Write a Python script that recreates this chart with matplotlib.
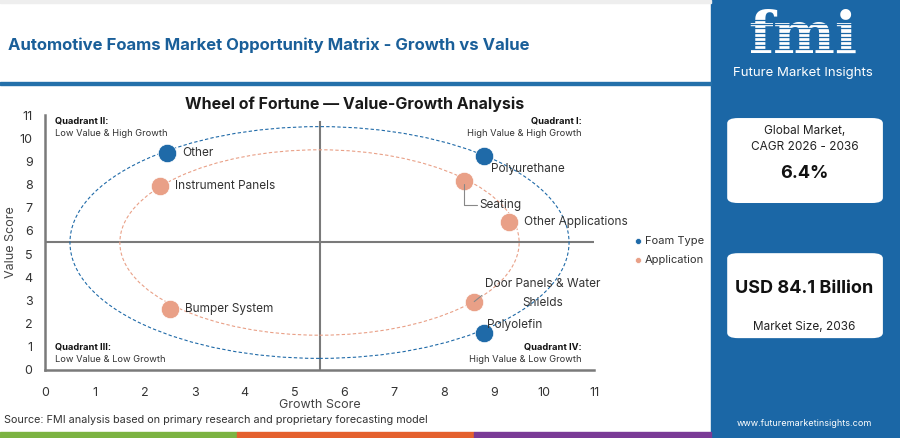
import matplotlib
matplotlib.use("Agg")
from matplotlib import pyplot as plt
from matplotlib.patches import Ellipse, Rectangle, FancyBboxPatch
from matplotlib.lines import Line2D

plt.rcParams['font.family'] = ['Inter', 'DejaVu Sans']

# data
foam_names = ["Polyurethane", "Polyolefin", "Other"]
foam_growth = [8.8, 8.8, 2.45]
foam_value = [9.25, 1.6, 9.35]

app_names = ["Seating", "Door Panels & Water\nShields", "Instrument Panels", "Bumper System", "Other Applications"]
app_growth = [8.4, 8.6, 2.3, 2.5, 9.3]
app_value = [8.15, 2.95, 7.95, 2.65, 6.4]

ticks = list(range(0, 12))

BLUE = "#1f6aa8"
SALMON = "#e9a087"
GRID = "#7a7a7a"
TXT = "#333333"
PANEL = "#1b67a6"

fig = plt.figure(figsize=(9, 4.38), dpi=100)

# right side panel
fig.patches.append(Rectangle((0.79, 0), 0.21, 1, transform=fig.transFigure, color=PANEL, zorder=0))
# thin top border + header line
fig.patches.append(Rectangle((0, 0.993), 0.79, 0.007, transform=fig.transFigure, color="#eeeeee", zorder=0))
fig.patches.append(Rectangle((0, 0.805), 0.79, 0.008, transform=fig.transFigure, color="#2470aa", zorder=0))
# bottom colour bar
for i, c in enumerate(["#7cb342", "#e4602e", "#7a3b96"]):
    fig.patches.append(Rectangle((i * 0.79 / 3, 0), 0.79 / 3, 0.013, transform=fig.transFigure, color=c, zorder=0))

fig.text(0.009, 0.897, "Automotive Foams Market Opportunity Matrix - Growth vs Value",
         fontsize=12, fontweight="bold", color="#1a5f99", va="center")
fig.text(0.394, 0.762, "Wheel of Fortune \u2014 Value-Growth Analysis",
         fontsize=11.5, fontweight="bold", color="#1a1a1a", ha="center", va="center")
fig.text(0.004, 0.041, "Source: FMI analysis based on primary research and proprietary forecasting model",
         fontsize=7.8, color=TXT, va="center")

ax = fig.add_axes([0.05, 0.1553, 0.61, 0.5821])
ax.set_xlim(0, 11)
ax.set_ylim(0, 11)
for s in ["top", "right"]:
    ax.spines[s].set_visible(False)
for s in ["left", "bottom"]:
    ax.spines[s].set_color(GRID)
    ax.spines[s].set_linewidth(1.8)
ax.set_xticks(ticks)
ax.set_yticks(ticks)
ax.tick_params(length=0, labelsize=9, colors=TXT)
ax.tick_params(axis="x", pad=12)
ax.tick_params(axis="y", pad=9)
ax.set_xlabel("Growth Score", fontsize=9, color="#444444", labelpad=0)
ax.set_ylabel("Value Score", fontsize=9, color="#444444", labelpad=2)

# quadrant dividers
ax.plot([5.5, 5.5], [0, 10.7], color=GRID, lw=1.5, zorder=1)
ax.plot([0, 11], [5.5, 5.5], color=GRID, lw=1.5, zorder=1)

# guide ellipses
ax.add_patch(Ellipse((5.5, 5.5), 10, 10, fill=False, ls=(0, (3, 2)), lw=0.8, ec=BLUE, zorder=2))
ax.add_patch(Ellipse((5.5, 5.5), 8, 8, fill=False, ls=(0, (3, 2)), lw=0.8, ec=SALMON, zorder=2))

ax.scatter(foam_growth, foam_value, s=175, color=BLUE, zorder=4, label="Foam Type", edgecolors="white", linewidths=0.5)
ax.scatter(app_growth, app_value, s=175, color=SALMON, zorder=4, label="Application", edgecolors="white", linewidths=0.5)

# label placement (offsets in points)
label_style = {
    "Polyurethane": dict(xytext=(5, -10), ha="left", va="center"),
    "Polyolefin": dict(xytext=(2, 6), ha="left", va="center"),
    "Other": dict(xytext=(11, 0), ha="left", va="center"),
    "Seating": dict(xytext=(11, -17), ha="left", va="center"),
    "Door Panels & Water\nShields": dict(xytext=(49, 6), ha="center", va="center"),
    "Instrument Panels": dict(xytext=(11, 0), ha="left", va="center"),
    "Bumper System": dict(xytext=(11, 0), ha="left", va="center"),
    "Other Applications": dict(xytext=(11, 0), ha="left", va="center"),
}
for names, xs, ys in [(foam_names, foam_growth, foam_value), (app_names, app_growth, app_value)]:
    for n, x, y in zip(names, xs, ys):
        st = label_style[n]
        kw = {}
        if n == "Seating":
            kw["arrowprops"] = dict(arrowstyle="-", color="#888888", lw=0.8,
                                    connectionstyle="angle,angleA=0,angleB=90,rad=0", shrinkA=0, shrinkB=2)
        if n.startswith("Door"):
            kw["arrowprops"] = dict(arrowstyle="-", color="#888888", lw=0.8, shrinkA=0, shrinkB=14,
                                    relpos=(0.0, 0.5))
        ax.annotate(n, (x, y), xytext=st["xytext"], textcoords="offset points",
                    ha=st["ha"], va=st["va"], fontsize=8.5, color=TXT, zorder=5,
                    linespacing=1.75, **kw)

# quadrant captions
qfs = 6.7
ax.text(0.2, 10.75, "Quadrant II:", fontsize=qfs, fontweight="bold", color="#111111", va="center")
ax.text(0.2, 10.22, "Low Value & High Growth", fontsize=qfs, color=TXT, va="center")
ax.text(10.75, 10.75, "Quadrant I:", fontsize=qfs, fontweight="bold", color="#111111", va="center", ha="right")
ax.text(10.75, 10.22, "High Value & High Growth", fontsize=qfs, color=TXT, va="center", ha="right")
ax.text(0.2, 1.0, "Quadrant III:", fontsize=qfs, fontweight="bold", color="#111111", va="center")
ax.text(0.2, 0.45, "Low Value & Low Growth", fontsize=qfs, color=TXT, va="center")
ax.text(10.75, 1.0, "Quadrant IV:", fontsize=qfs, fontweight="bold", color="#111111", va="center", ha="right")
ax.text(10.75, 0.45, "High Value & Low Growth", fontsize=qfs, color=TXT, va="center", ha="right")

leg = ax.legend(loc="center left", bbox_to_anchor=(1.06, 0.47), frameon=False, fontsize=8,
                markerscale=0.33, handletextpad=0.0, labelspacing=0.8, borderaxespad=0,
                handlelength=1.2)
for t in leg.get_texts():
    t.set_color(TXT)

# right panel content: striped logo
fig.text(0.892, 0.915, "fmi", fontsize=42, fontweight="bold", color="white", ha="center", va="center",
         family="DejaVu Serif", zorder=3)
for k in range(11):
    yy = 1 - (20 + k * 4.2) / 438
    fig.add_artist(Line2D([0.81, 0.975], [yy, yy], transform=fig.transFigure, color=PANEL, lw=0.9, zorder=4))
fig.text(0.892, 0.833, "Future Market Insights", fontsize=9.5, color="white", ha="center", va="center")

for y0 in [0.5365, 0.228]:
    fig.patches.append(FancyBboxPatch((0.808, y0), 0.173, 0.194, boxstyle="round,pad=0,rounding_size=0.012",
                                      transform=fig.transFigure, fc="white", ec="none", zorder=1))
fig.text(0.894, 0.700, "Global Market,", fontsize=8.5, color="#222222", ha="center", va="center")
fig.text(0.894, 0.664, "CAGR 2026 - 2036", fontsize=8.5, color="#222222", ha="center", va="center")
fig.text(0.894, 0.603, "6.4%", fontsize=13, fontweight="bold", color="#111111", ha="center", va="center")
fig.text(0.894, 0.342, "USD 84.1 Billion", fontsize=13, fontweight="bold", color="#111111", ha="center", va="center")
fig.text(0.894, 0.253, "Market Size, 2036", fontsize=8.5, color="#222222", ha="center", va="center")
fig.text(0.894, 0.032, "www.futuremarketinsights.com", fontsize=6.5, color="white", ha="center", va="center")

fig.savefig("out.png", dpi=100)
